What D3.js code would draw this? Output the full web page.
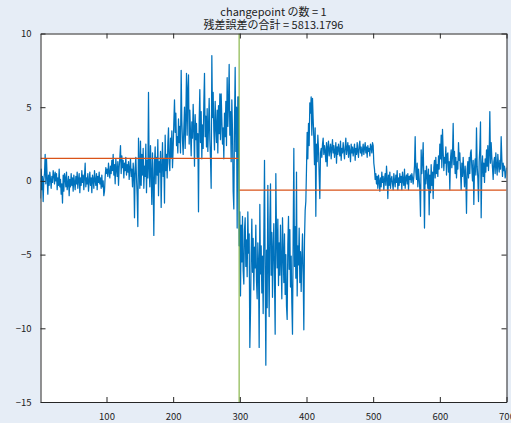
<!DOCTYPE html>
<html>
<head>
<meta charset="utf-8">
<script src="https://cdn.jsdelivr.net/npm/d3@7/dist/d3.min.js"></script>
<style>
  html, body { margin: 0; padding: 0; background: #E6EDF6; }
  svg { display: block; }
  text { font-family: "Noto Sans CJK JP", "Liberation Sans", sans-serif; fill: #222; }
</style>
</head>
<body>
<svg id="chart" width="511" height="423"></svg>
<script>
// Signal samples (index 1..700)
const signal = [
  -1.2, 0.8, -0.6, 0.3, -1.4, 0.1, 0.5, 1.8, -0.2, 1.5,
  0.2, -0.9, 0.4, -0.3, 0.6, 0.1, -0.5, 0.3, -0.1, 0.7,
  0.4, -0.2, 0.6, 0.0, 0.5, -0.6, 0.2, -0.3, 0.8, -0.4,
  0.1, -0.9, -0.2, -1.5, 0.4, -0.7, 0.5, 0.2, -0.4, 0.6,
  -0.6, -0.2, 0.3, -1.0, 0.1, -0.4, 0.5, -0.3, 0.2, -0.7,
  0.4, -0.1, -0.6, 0.3, -0.2, 0.6, -0.5, 0.1, 0.5, -0.8,
  0.2, -0.3, 0.7, -0.1, 0.4, -0.6, 0.3, 1.2, -0.4, 0.2,
  -0.2, 0.5, -0.7, 0.0, 0.6, -0.3, 0.2, -0.8, 0.4, 0.1,
  -0.5, 0.7, 0.0, -0.3, 0.5, -0.6, 0.3, -0.1, 0.6, -0.2,
  0.2, -0.5, 0.4, -0.4, 0.0, -1.0, -0.7, 0.3, 0.9, 0.5,
  0.8, 0.3, 1.2, 0.6, 0.2, 1.0, 0.5, 1.4, 0.7, 1.8,
  0.4, 1.1, -0.2, 1.5, 0.8, 0.3, 1.3, -0.3, 0.9, 1.6,
  2.4, 0.5, 1.7, 0.9, 1.4, 0.2, 1.2, 0.7, 1.6, 0.4,
  1.1, 0.6, 1.3, 0.1, 0.9, 1.5, 0.3, 0.8, -0.4, 1.2,
  0.5, -2.5, 0.9, 1.6, 0.2, -1.0, -3.1, 2.9, 1.1, -0.5,
  2.7, -0.3, 1.8, 0.4, 2.2, -0.5, 1.0, 0.3, 2.5, -0.8,
  1.4, 0.2, 6.0, 0.8, -0.4, 2.4, 0.5, -1.6, 1.9, 0.1,
  -3.7, 1.2, 2.3, -0.2, 1.6, 0.4, 2.8, -1.0, 1.3, 0.6,
  2.0, -1.8, 0.9, 2.6, 0.3, 1.5, -1.5, 3.1, 0.7, 1.8,
  0.2, 2.5, 3.6, 1.2, 0.7, 2.9, 1.6, 3.4, 0.9, 2.2,
  4.0, 5.5, 3.3, 4.6, 2.4, 3.0, 1.9, 4.2, 2.6, 3.7,
  1.9, 7.5, 4.1, 2.7, 1.8, 3.5, 5.0, 2.2, 4.4, 7.3,
  3.1, 6.2, 7.2, 2.5, 4.8, 3.3, 1.7, 4.0, 2.9, 5.2,
  3.6, 1.0, 4.5, 2.8, 3.9, 1.6, 3.2, -2.1, 4.1, 6.2,
  2.6, 4.7, 1.5, 3.8, 2.2, 5.3, 7.3, 3.0, 4.4, 2.3,
  4.9, 2.0, 3.6, 5.6, 2.8, 1.5, -0.5, 8.5, 4.3, 6.0,
  3.4, 2.1, 5.4, 3.7, 2.6, 4.8, 1.9, 5.1, 3.2, 5.9,
  2.8, 5.9, 4.2, 2.5, 3.6, 1.5, 4.6, 3.0, 5.4, 2.4,
  7.0, 3.7, 5.2, 7.9, 3.1, 4.7, 1.3, 5.5, 3.4, -0.7,
  -1.9, 3.9, 7.7, 2.0, 5.0, -3.2, 5.7, 5.7, -4.4, -2.1,
  -7.8, -3.0, -5.5, -2.4, -6.1, -7.0, -3.3, -2.5, -5.8, -4.0,
  -6.5, -2.1, -4.9, -3.6, -11.3, -8.9, -5.0, -2.6, -6.2, -3.9,
  -7.4, -4.5, -5.9, -3.0, -6.8, -8.0, -4.2, -5.6, -11.3, -1.6,
  -6.3, -4.4, -7.6, -5.1, -9.0, -3.8, 1.4, -6.0, -12.5, -4.7,
  -8.6, -0.3, -5.4, -9.2, -2.8, -0.2, -6.4, -3.5, -7.9, -4.6,
  -2.9, -6.7, -10.4, 0.5, -3.7, -5.9, -2.6, -7.1, -4.2, -6.4,
  -3.0, -5.5, -8.0, -2.5, -4.8, -6.9, -3.6, -7.7, -5.0, -8.5,
  -9.4, -4.3, -2.4, -6.0, -3.3, -7.2, -5.1, -8.3, -10.4, -3.9,
  2.2, -5.8, -3.1, -6.6, 0.6, -7.8, -4.4, -5.7, -3.2, -6.9,
  -4.8, -7.5, -5.3, -3.6, -6.2, -10.1, -4.0, -2.0, -1.4, 0.8,
  3.3, 1.5, 3.9, 2.4, 5.3, 4.6, 5.7, 3.1, 5.6, 4.2,
  2.9, 1.1, 3.6, -2.4, 2.5, 1.3, 3.1, 2.2, 0.4, -1.2,
  1.9, 2.2, 1.6, 2.5, 2.9, 1.8, 2.4, 2.0, 1.3, 2.6,
  1.0, 2.3, 2.7, 1.7, 2.1, 2.5, 1.5, 2.2, 2.8, 1.9,
  2.4, 1.6, 2.0, 2.6, 1.2, 2.3, 1.8, 2.5, 2.1, 1.7,
  2.7, 1.4, 2.2, 1.9, 2.6, 2.0, 1.5, 2.3, 2.9, 1.8,
  2.2, 2.6, 1.6, 2.4, 2.0, 1.3, 2.5, 1.9, 2.3, 1.7,
  2.1, 2.5, 1.4, 2.2, 1.8, 2.6, 2.0, 1.6, 2.4, 2.7,
  1.9, 2.3, 1.7, 2.1, 2.5, 1.8, 2.2, 2.6, 1.9, 2.3,
  1.6, 2.4, 2.0, 2.2, 1.7, 2.5, 2.3, 1.9, 2.6, 2.4,
  1.2, 0.8, 0.1, 0.5, -0.2, 0.3, -0.5, 0.4, 0.0, -0.7,
  0.2, -0.4, 0.6, -0.1, 0.3, -0.6, 0.1, 0.5, -0.3, 1.0,
  0.2, -1.2, 0.4, -0.3, 0.6, -0.5, 0.1, 0.3, -0.2, -0.6,
  0.5, 0.0, -0.4, 0.4, -0.1, 0.7, -0.6, 0.2, -0.3, 0.5,
  -0.1, 0.3, -0.6, 0.6, 0.0, -0.3, 0.8, -0.5, 0.2, 0.4,
  -0.2, 0.5, -0.6, 0.3, 0.1, 0.4, -0.1, 0.5, 0.2, -0.2,
  0.3, 1.0, 3.0, 0.6, 0.1, 1.2, -0.4, 0.8, 0.2, -0.6,
  -2.4, 2.1, 0.5, 1.3, 2.6, 0.0, -3.2, 0.7, -0.2, 1.0,
  0.3, -0.5, 0.8, -2.3, 0.4, -0.8, 1.1, -0.3, 0.6, -1.2,
  0.9, 1.4, 0.2, 1.6, 0.5, 1.1, 0.3, 1.7, 0.8, 2.5,
  1.5, 3.1, 0.9, 3.5, 2.0, 0.7, 1.6, 1.2, 2.3, 0.4,
  1.8, 1.9, 0.6, 1.3, -0.6, 1.5, 2.1, 0.9, 1.7, 3.9,
  1.1, 2.0, 0.5, 1.6, 0.2, 1.3, 0.8, 2.6, 1.4, 1.9,
  0.7, -0.6, 1.2, 0.3, 1.6, 0.6, -0.4, 1.0, 0.1, -2.2,
  0.8, 1.3, 0.2, 1.6, 0.5, 1.9, 2.1, 0.9, 0.0, 1.4,
  -1.6, 0.8, 1.5, 0.4, 3.6, 1.0, 0.2, -1.4, 1.3, 2.2,
  4.0, -2.5, 0.9, 1.7, 0.3, 1.2, -0.1, 1.5, 0.6, 2.1,
  1.0, 2.4, 0.7, 1.8, 4.7, 1.2, 2.6, 1.6, 0.9, 0.1,
  1.3, 1.6, 0.5, 1.9, 1.0, 0.4, 1.8, 1.1, 0.6, 1.4,
  0.8, 3.0, 1.5, 0.3, 1.2, 0.7, 1.0, 0.2, 0.5, 0.9
];

// Detected change point and the mean level of each segment
const changepoints = [299];
const segmentStarts = [1, 299];
const segmentEnds = [298, 700];
const segmentMeans = [1.53, -0.62];

// Axis ticks and title lines
const xTicks = [100, 200, 300, 400, 500, 600, 700];
const yTicks = [10, 5, 0, -5, -10, -15];
const titleLines = ["changepoint の数 = 1", "残差誤差の合計 = 5813.1796"];

const svg = d3.select("#chart");
const plot = { left: 40.5, right: 506.5, top: 33.5, bottom: 402 };

const x = d3.scaleLinear().domain([1, 700]).range([plot.left, plot.right]);
const y = d3.scaleLinear().domain([-15, 10]).range([plot.bottom, plot.top]);

// Axes background
svg.append("rect")
  .attr("x", plot.left).attr("y", plot.top)
  .attr("width", plot.right - plot.left).attr("height", plot.bottom - plot.top)
  .attr("fill", "#ffffff");

svg.append("clipPath").attr("id", "clip")
  .append("rect")
  .attr("x", plot.left).attr("y", plot.top)
  .attr("width", plot.right - plot.left).attr("height", plot.bottom - plot.top);

const g = svg.append("g").attr("clip-path", "url(#clip)");

// Signal
const line = d3.line().x((d, i) => x(i + 1)).y(d => y(d));
g.append("path")
  .datum(signal)
  .attr("d", line)
  .attr("fill", "none")
  .attr("stroke", "#0072BD")
  .attr("stroke-width", 1.25)
  .attr("stroke-linejoin", "round");

// Segment means
g.selectAll("line.mean")
  .data(segmentMeans)
  .enter().append("line")
  .attr("class", "mean")
  .attr("x1", (d, i) => x(segmentStarts[i]))
  .attr("x2", (d, i) => x(segmentEnds[i]))
  .attr("y1", d => y(d))
  .attr("y2", d => y(d))
  .attr("stroke", "#D95319")
  .attr("stroke-width", 1.3);

// Change point markers
g.selectAll("line.cp")
  .data(changepoints)
  .enter().append("line")
  .attr("class", "cp")
  .attr("x1", d => x(d)).attr("x2", d => x(d))
  .attr("y1", plot.top).attr("y2", plot.bottom)
  .attr("stroke", "#77AC30")
  .attr("stroke-opacity", 0.7)
  .attr("stroke-width", 1.5);

// Axes (ticks drawn inward on all four sides)
const axisColor = "#262626";
const tickLen = 5;

const xAxisB = d3.axisBottom(x).tickValues(xTicks).tickSizeInner(-tickLen).tickSizeOuter(0).tickPadding(11);
const xAxisT = d3.axisTop(x).tickValues(xTicks).tickSizeInner(-tickLen).tickSizeOuter(0).tickFormat("");
const yAxisL = d3.axisLeft(y).tickValues(yTicks).tickSizeInner(-tickLen).tickSizeOuter(0).tickPadding(9)
  .tickFormat(d => d < 0 ? "\u2212" + Math.abs(d) : String(d));
const yAxisR = d3.axisRight(y).tickValues(yTicks).tickSizeInner(-tickLen).tickSizeOuter(0).tickFormat("");

function styleAxis(sel) {
  sel.select(".domain").attr("stroke", axisColor).attr("stroke-width", 1);
  sel.selectAll(".tick line").attr("stroke", axisColor).attr("stroke-width", 1);
  sel.selectAll(".tick text").attr("fill", "#222").style("font-size", "9.5px")
    .style("font-family", "'Noto Sans CJK JP', 'Liberation Sans', sans-serif");
}

svg.append("g").attr("transform", `translate(0,${plot.bottom})`).call(xAxisB).call(styleAxis);
svg.append("g").attr("transform", `translate(0,${plot.top})`).call(xAxisT).call(styleAxis);
svg.append("g").attr("transform", `translate(${plot.left},0)`).call(yAxisL).call(styleAxis);
svg.append("g").attr("transform", `translate(${plot.right},0)`).call(yAxisR).call(styleAxis);

// Title, two lines centred over the axes
const cx = (plot.left + plot.right) / 2;
svg.selectAll("text.title")
  .data(titleLines)
  .enter().append("text")
  .attr("class", "title")
  .attr("x", cx)
  .attr("y", (d, i) => 15.5 + i * 13.5)
  .attr("text-anchor", "middle")
  .style("font-size", "11px")
  .style("white-space", "pre")
  .text(d => d);
</script>
</body>
</html>
